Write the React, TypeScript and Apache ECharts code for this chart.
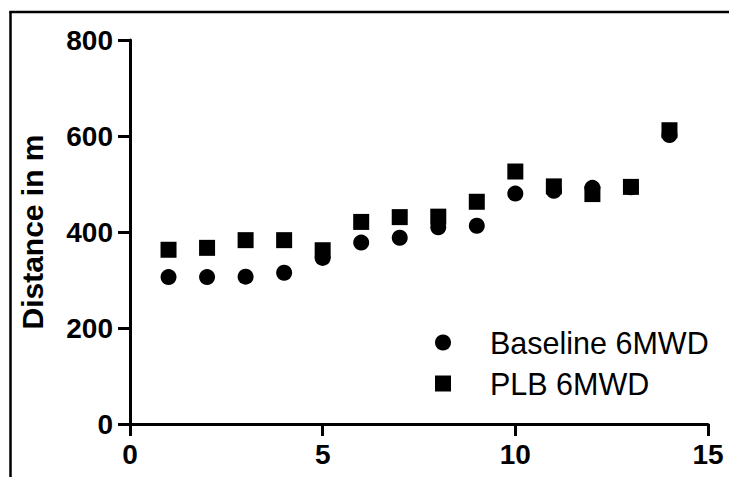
import React, { useEffect, useRef } from "react";
import * as echarts from "echarts";

const xValues = [1, 2, 3, 4, 5, 6, 7, 8, 9, 10, 11, 12, 13, 14];
const baseline6MWD = [306, 306, 307, 315, 346, 378, 388, 410, 413, 480, 486, 492, 493, 602];
const plb6MWD = [363, 367, 383, 383, 362, 421, 431, 432, 463, 526, 495, 479, 494, 612];
const seriesNames = ["Baseline 6MWD", "PLB 6MWD"];
const yTitle = "Distance in m";

export default function App() {
  const ref = useRef<HTMLDivElement>(null);
  useEffect(() => {
    if (!ref.current) return;
    const chart = echarts.init(ref.current, null, { renderer: "svg" });
    const font = "'Liberation Sans', Arial, Helvetica, sans-serif";
    chart.setOption({
      animation: false,
      backgroundColor: "#ffffff",
      grid: { left: 130, right: 21, top: 40, bottom: 53, containLabel: false },
      xAxis: {
        type: "value",
        min: 0,
        max: 15,
        interval: 5,
        splitLine: { show: false },
        axisLine: { show: true, onZero: false, lineStyle: { color: "#000", width: 3 } },
        axisTick: { show: true, length: 12, lineStyle: { color: "#000", width: 3 } },
        axisLabel: { color: "#000", fontSize: 28, fontWeight: "bold", fontFamily: font, margin: 16 },
      },
      yAxis: {
        type: "value",
        min: 0,
        max: 800,
        interval: 200,
        name: yTitle,
        nameLocation: "middle",
        nameGap: 83,
        nameTextStyle: { color: "#000", fontSize: 30, fontWeight: "bold", fontFamily: font },
        splitLine: { show: false },
        axisLine: { show: true, lineStyle: { color: "#000", width: 3 } },
        axisTick: { show: true, length: 12, lineStyle: { color: "#000", width: 3 } },
        axisLabel: { color: "#000", fontSize: 28, fontWeight: "bold", fontFamily: font, margin: 17 },
      },
      legend: {
        orient: "vertical",
        left: 435,
        top: 327,
        padding: 0,
        itemWidth: 16,
        itemHeight: 16,
        itemGap: 10,
        data: seriesNames,
        textStyle: { color: "#000", fontSize: 30.5, fontFamily: font, lineHeight: 30, padding: [0, 0, 0, 34] },
      },
      graphic: [
        {
          type: "line",
          shape: { x1: 10.5, y1: 12, x2: 10.5, y2: 477 },
          style: { stroke: "#000", lineWidth: 2.5 },
          silent: true,
        },
        {
          type: "line",
          shape: { x1: 9.25, y1: 12, x2: 729, y2: 12 },
          style: { stroke: "#000", lineWidth: 2.5 },
          silent: true,
        },
      ],
      series: [
        {
          name: seriesNames[0],
          type: "scatter",
          symbol: "circle",
          symbolSize: 16,
          itemStyle: { color: "#000", opacity: 1 },
          data: xValues.map((x, i) => [x, baseline6MWD[i]]),
        },
        {
          name: seriesNames[1],
          type: "scatter",
          symbol: "rect",
          symbolSize: 16,
          itemStyle: { color: "#000", opacity: 1 },
          data: xValues.map((x, i) => [x, plb6MWD[i]]),
        },
      ],
    });
    return () => chart.dispose();
  }, []);
  return (
    <div
      ref={ref}
      style={{ position: "fixed", left: 0, top: 0, width: 729, height: 477, background: "#fff" }}
    />
  );
}
